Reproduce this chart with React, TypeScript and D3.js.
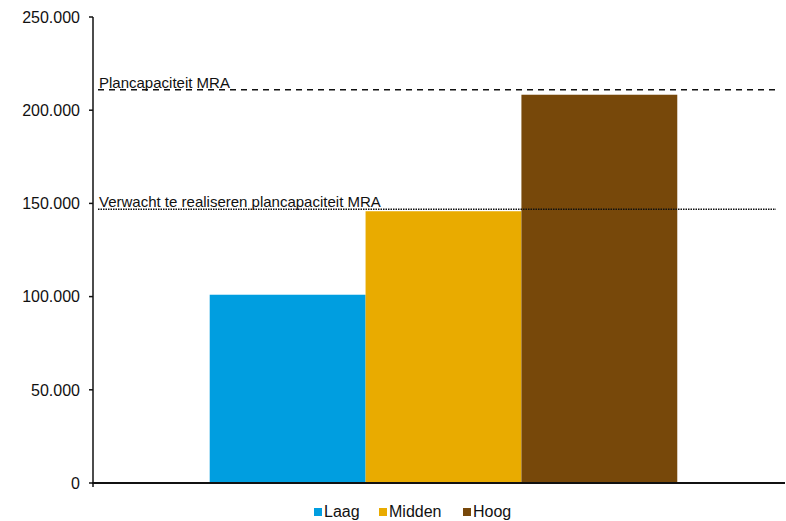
import React from "react";
import * as d3 from "d3";

const series = ["Laag", "Midden", "Hoog"];
const values = [101000, 145800, 208300];
const colors = ["#009ee0", "#e9ab00", "#77480a"];
const yTicks = [0, 50000, 100000, 150000, 200000, 250000];
const refLabels = ["Plancapaciteit MRA", "Verwacht te realiseren plancapaciteit MRA"];
const refValues = [211000, 146800];
const refDash = ["6,5", "1.5,1"];

const W = 786;
const H = 521;
const FONT = "'Liberation Sans', Arial, Helvetica, sans-serif";

export default function App() {
  const y = d3.scaleLinear().domain([0, 250000]).range([483, 17]);
  const outer = d3.scaleBand<string>().domain(["MRA"]).range([93, 785]).paddingInner(0).paddingOuter(0.24).align(0.52);
  const x = d3
    .scaleBand<string>()
    .domain(series)
    .range([outer("MRA")!, outer("MRA")! + outer.bandwidth()])
    .padding(0);
  const fmt = (v: number) => d3.format(",")(v).replace(/,/g, ".");

  const legendX = [314, 379, 463];

  return (
    <svg width={W} height={H} style={{ position: "absolute", left: 0, top: 0, background: "#fff" }} fontFamily={FONT}>
      <rect width={W} height={H} fill="#fff" />
      {series.map((s, i) => (
        <rect
          key={s}
          x={x(s)}
          y={y(values[i])}
          width={x.bandwidth()}
          height={y(0) - y(values[i])}
          fill={colors[i]}
        />
      ))}
      {refValues.map((v, i) => (
        <g key={i}>
          <line x1={98} x2={776} y1={y(v)} y2={y(v)} stroke="#111" strokeWidth={1.5} strokeDasharray={refDash[i]} />
          <text x={99} y={y(v) - 2} fontSize={15} fill="#111">
            {refLabels[i]}
          </text>
        </g>
      ))}
      <line x1={93} x2={93} y1={y(250000)} y2={y(0)} stroke="#111" strokeWidth={1.5} />
      {yTicks.map((t) => (
        <g key={t}>
          <line x1={89} x2={93} y1={y(t)} y2={y(t)} stroke="#111" strokeWidth={1.5} />
          <text x={80} y={y(t)} dy="0.36em" textAnchor="end" fontSize={16} fill="#111">
            {fmt(t)}
          </text>
        </g>
      ))}
      <line x1={92.25} x2={785} y1={y(0)} y2={y(0)} stroke="#111" strokeWidth={2} />
      <line x1={93} x2={93} y1={y(0)} y2={y(0) + 4} stroke="#111" strokeWidth={1.5} />
      {series.map((s, i) => (
        <g key={s}>
          <rect x={legendX[i]} y={508} width={8} height={8} fill={colors[i]} />
          <text x={legendX[i] + 10} y={517} fontSize={16} fill="#111">
            {s}
          </text>
        </g>
      ))}
    </svg>
  );
}
